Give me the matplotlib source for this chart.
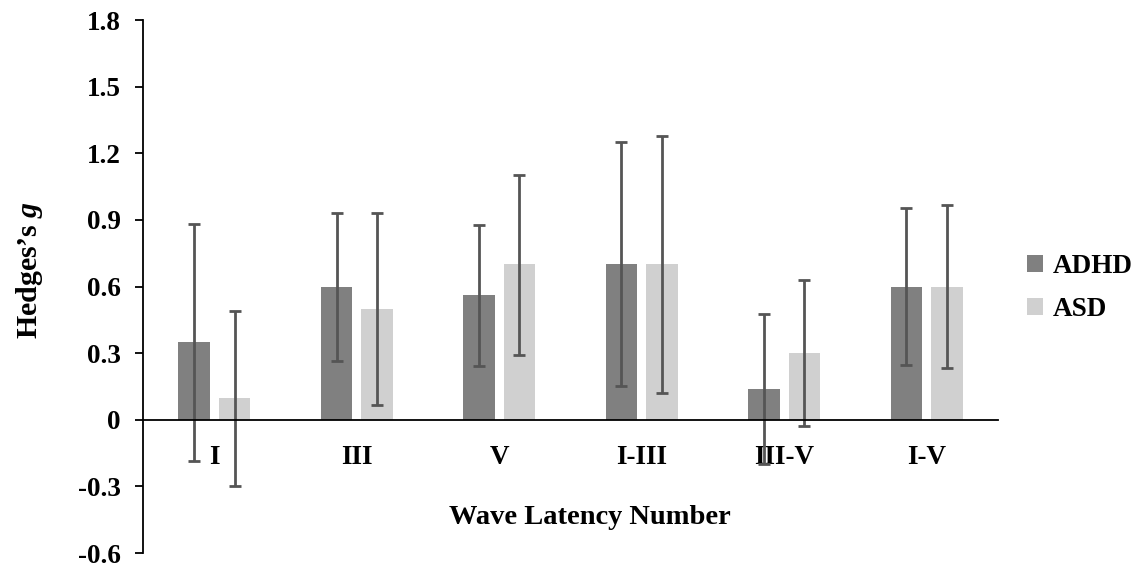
import numpy as np
import matplotlib
matplotlib.use("Agg")
import matplotlib.pyplot as plt

# valores
categorias = ["I", "III", "V", "I-III", "III-V", "I-V"]
adhd = [0.35, 0.60, 0.56, 0.70, 0.14, 0.60]
adhd_sup = [0.88, 0.93, 0.875, 1.25, 0.475, 0.955]
adhd_inf = [-0.185, 0.265, 0.24, 0.15, -0.20, 0.245]
asd = [0.10, 0.50, 0.70, 0.70, 0.30, 0.60]
asd_sup = [0.49, 0.93, 1.10, 1.28, 0.63, 0.965]
asd_inf = [-0.30, 0.068, 0.29, 0.12, -0.03, 0.235]
yticks = [-0.6, -0.3, 0, 0.3, 0.6, 0.9, 1.2, 1.5, 1.8]
ytick_labels = ["-0.6", "-0.3", "0", "0.3", "0.6", "0.9", "1.2", "1.5", "1.8"]

plt.rcParams["font.family"] = ["Liberation Serif", "DejaVu Serif"]
plt.rcParams["font.weight"] = "bold"
plt.rcParams["mathtext.fontset"] = "custom"
plt.rcParams["mathtext.rm"] = "Liberation Serif:bold"
plt.rcParams["mathtext.it"] = "Liberation Serif:italic"
plt.rcParams["mathtext.bf"] = "Liberation Serif:bold"

fig = plt.figure(figsize=(11.47, 5.72), dpi=100)
ax = fig.add_axes([0.1247, 0.0332, 0.7453, 0.9318])

x = np.arange(len(categorias))
ancho = 0.22
desp = 0.142

adhd = np.array(adhd)
asd = np.array(asd)
err_adhd = [adhd - np.array(adhd_inf), np.array(adhd_sup) - adhd]
err_asd = [asd - np.array(asd_inf), np.array(asd_sup) - asd]

estilo_err = dict(ecolor="#555555", elinewidth=2.0, capsize=4, capthick=2.0)
ax.bar(x - desp, adhd, ancho, color="#808080", label="ADHD",
       yerr=err_adhd, error_kw=estilo_err, zorder=2)
ax.bar(x + desp, asd, ancho, color="#d0d0d0", label="ASD",
       yerr=err_asd, error_kw=estilo_err, zorder=2)

ax.spines["top"].set_visible(False)
ax.spines["right"].set_visible(False)
ax.spines["bottom"].set_position(("data", 0))
ax.spines["bottom"].set_linewidth(1.3)
ax.spines["left"].set_linewidth(1.3)

ax.set_xlim(-0.5, 5.5)
ax.set_ylim(-0.6, 1.8)
ax.set_yticks(yticks)
ax.set_yticklabels(ytick_labels)
ax.set_xticks(x)
ax.set_xticklabels(categorias)
ax.tick_params(axis="x", length=0, pad=18, labelsize=19.5)
ax.tick_params(axis="y", length=6, width=1.3, pad=10, labelsize=19.5)

ax.text(0.523, 0.0675, "Wave Latency Number", transform=ax.transAxes,
        ha="center", va="center", fontsize=20.5, fontweight="bold")
fig.text(30 / 1147, 1 - 270 / 572, r"Hedges’s $\mathit{g}$", rotation=90,
         ha="center", va="center", fontsize=21.5, fontweight="bold")

ax.legend(loc="center left", bbox_to_anchor=(1.005, 0.497), frameon=False,
          handlelength=0.6, handleheight=0.6,
          handletextpad=0.35, labelspacing=0.65,
          prop={"weight": "bold", "size": 19.5})

fig.savefig("out.png", dpi=100)
